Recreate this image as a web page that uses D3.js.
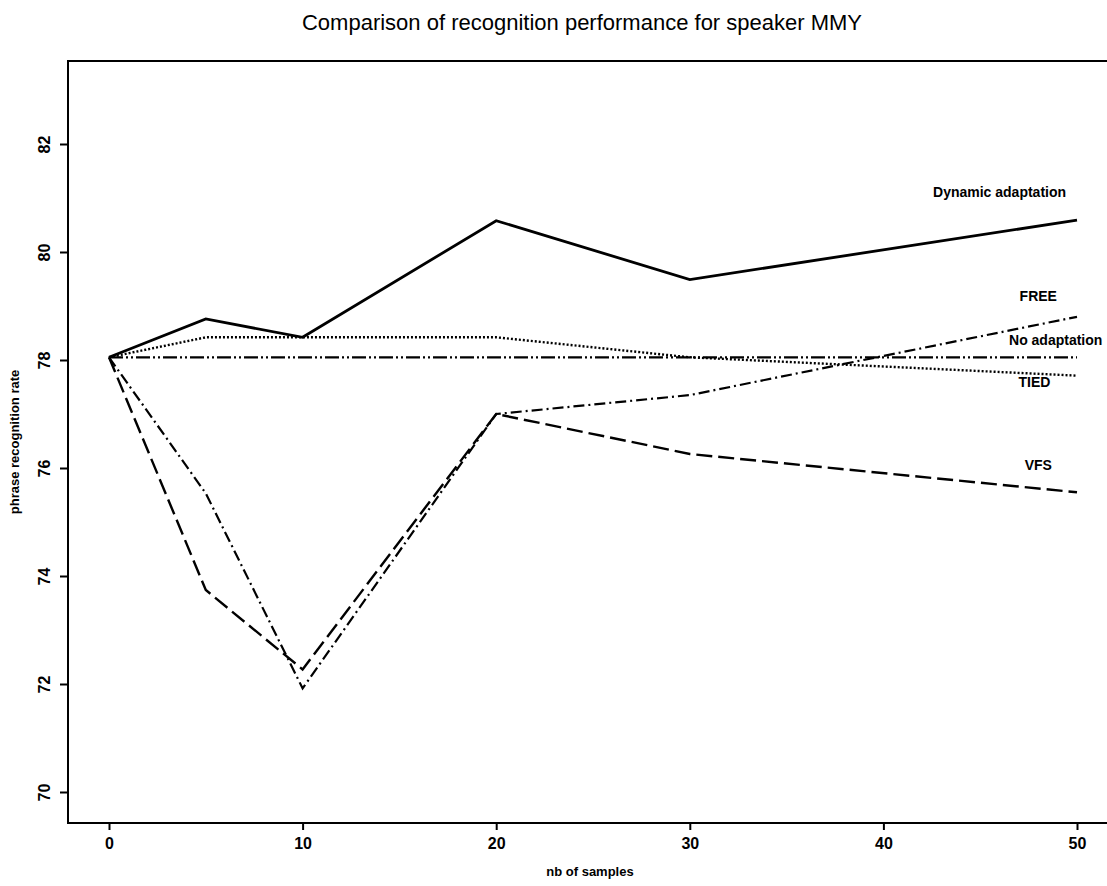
<!DOCTYPE html>
<html><head><meta charset="utf-8">
<script src="https://cdn.jsdelivr.net/npm/d3@7"></script>
<style>body{margin:0;background:#fff}svg{display:block}</style>
</head><body>
<script>
const xSamples = [0, 5, 10, 20, 30, 50];
const dynamicAdaptation = [78.05, 78.76, 78.42, 80.58, 79.49, 80.59];
const noAdaptation = [78.05, 78.05, 78.05, 78.05, 78.05, 78.05];
const tied = [78.05, 78.42, 78.42, 78.42, 78.05, 77.71];
const free = [78.05, 75.53, 71.92, 77.0, 77.35, 78.8];
const vfs = [78.05, 73.74, 72.27, 77.0, 76.26, 75.55];
const xTicks = [0, 10, 20, 30, 40, 50];
const yTicks = [70, 72, 74, 76, 78, 80, 82];
const seriesNames = ["Dynamic adaptation", "No adaptation", "TIED", "FREE", "VFS"];
// label anchor positions in data units [x, y]
const labelX = [46.0, 48.9, 47.8, 48.0, 48.0];
const labelY = [81.02, 78.28, 77.5, 79.09, 75.96];

const W = 1107, H = 886;
const svg = d3.select("body").append("svg").attr("width", W).attr("height", H);
const x = d3.scaleLinear().domain([0, 50]).range([109, 1077]);
const y = d3.scaleLinear().domain([70, 82]).range([792, 144]);
const frame = {left: 68, top: 61, right: 1120, bottom: 823};

svg.append("rect").attr("x", frame.left).attr("y", frame.top)
  .attr("width", frame.right - frame.left).attr("height", frame.bottom - frame.top)
  .attr("fill", "none").attr("stroke", "#000").attr("stroke-width", 2);

const font = "'Liberation Sans Narrow','Liberation Sans',Arial,sans-serif";

// x axis
const xAxis = d3.axisBottom(x).tickValues(xTicks).tickSize(7).tickSizeOuter(0).tickPadding(8);
const gx = svg.append("g").attr("transform", `translate(0,${frame.bottom})`).call(xAxis);
gx.select(".domain").remove();
gx.selectAll("line").attr("stroke-width", 2);
gx.selectAll("text").attr("font-family", font).attr("font-weight", "bold").attr("font-size", 16).attr("fill", "#000");

// y axis
const yAxis = d3.axisLeft(y).tickValues(yTicks).tickSize(8).tickSizeOuter(0).tickPadding(0);
const gy = svg.append("g").attr("transform", `translate(${frame.left},0)`).call(yAxis);
gy.select(".domain").remove();
gy.selectAll("line").attr("stroke-width", 2);
gy.selectAll("text").attr("font-family", font).attr("font-weight", "bold").attr("font-size", 16).attr("fill", "#000")
  .attr("text-anchor", "middle").attr("x", 0).attr("dy", 0)
  .attr("transform", "translate(-23,0) rotate(-90)").attr("y", 5);

// title and axis labels
svg.append("text").attr("x", 582).attr("y", 30).attr("text-anchor", "middle")
  .attr("font-family", "'Liberation Sans',Arial,sans-serif").attr("font-size", 22)
  .text("Comparison of recognition performance for speaker MMY");
svg.append("text").attr("x", 590).attr("y", 876).attr("text-anchor", "middle")
  .attr("font-family", font).attr("font-weight", "bold").attr("font-size", 13)
  .text("nb of samples");
svg.append("text").attr("transform", "translate(19,442) rotate(-90)").attr("text-anchor", "middle")
  .attr("font-family", font).attr("font-weight", "bold").attr("font-size", 13)
  .text("phrase recognition rate");

const seriesData = [dynamicAdaptation, noAdaptation, tied, free, vfs];
const dashes = [null, "14,3,2,3,2,3", "2,2", "11,4,2,4", "16,6"];
const widths = [2.8, 2.2, 2.4, 2.2, 2.4];
const line = d3.line().x(d => x(d[0])).y(d => y(d[1]));
seriesData.forEach((vals, i) => {
  svg.append("path").datum(xSamples.map((s, j) => [s, vals[j]]))
    .attr("d", line).attr("fill", "none").attr("stroke", "#000")
    .attr("stroke-width", widths[i]).attr("stroke-linejoin", "miter")
    .attr("stroke-dasharray", dashes[i]);
  svg.append("text").attr("x", x(labelX[i])).attr("y", y(labelY[i]))
    .attr("text-anchor", "middle").attr("font-family", "'Liberation Sans',Arial,sans-serif")
    .attr("font-size", 14).attr("font-weight", "bold").text(seriesNames[i]);
});
</script>
</body></html>
